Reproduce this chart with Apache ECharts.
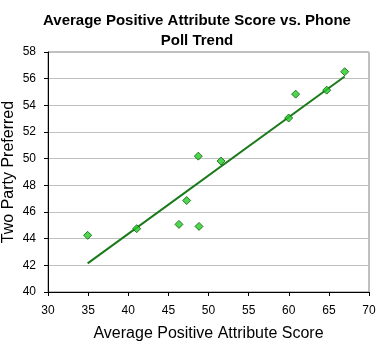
<!DOCTYPE html>
<html>
<head>
<meta charset="utf-8">
<script src="https://cdn.jsdelivr.net/npm/echarts@6/dist/echarts.min.js"></script>
<style>
  html, body { margin: 0; padding: 0; background: #ffffff; }
  #chart { width: 382px; height: 347px; }
</style>
</head>
<body>
<div id="chart"></div>
<script>
// Average positive attribute score (x) vs. two party preferred (y)
const attributeScore = [34.94, 41.05, 46.32, 47.28, 48.82, 48.73, 51.56, 59.99, 60.86, 64.73, 66.97];
const twoPartyPreferred = [44.25, 44.75, 45.07, 46.86, 44.92, 50.19, 49.82, 53.05, 54.84, 55.14, 56.52];

const xTicks = { min: 30, max: 70, interval: 5 };
const yTicks = { min: 40, max: 58, interval: 2 };

// Least-squares linear trend through the points
function linearTrend(xs, ys) {
  const n = xs.length;
  const mx = xs.reduce((a, b) => a + b, 0) / n;
  const my = ys.reduce((a, b) => a + b, 0) / n;
  let sxy = 0, sxx = 0;
  for (let i = 0; i < n; i++) {
    sxy += (xs[i] - mx) * (ys[i] - my);
    sxx += (xs[i] - mx) * (xs[i] - mx);
  }
  const slope = sxy / sxx;
  const intercept = my - slope * mx;
  const x0 = Math.min(...xs), x1 = Math.max(...xs);
  return [[x0, intercept + slope * x0], [x1, intercept + slope * x1]];
}

const points = attributeScore.map((x, i) => [x, twoPartyPreferred[i]]);
const trend = linearTrend(attributeScore, twoPartyPreferred);

const chart = echarts.init(document.getElementById('chart'), null, { renderer: 'canvas' });
const font = 'Arial, "Liberation Sans", sans-serif';

chart.setOption({
  backgroundColor: '#ffffff',
  animation: false,
  title: {
    text: 'Average Positive Attribute Score vs. Phone\nPoll Trend',
    left: 192,
    textAlign: 'center',
    top: 6,
    textStyle: { fontFamily: font, fontSize: 15, fontWeight: 'bold', color: '#000', lineHeight: 20 }
  },
  grid: {
    left: 48, right: 13, top: 52, bottom: 55,
    outerBoundsMode: 'none',
    containLabel: false,
    show: true, borderColor: '#808080', borderWidth: 1, backgroundColor: '#ffffff'
  },
  xAxis: {
    type: 'value',
    min: xTicks.min, max: xTicks.max, interval: xTicks.interval,
    name: 'Average Positive Attribute Score',
    nameLocation: 'middle',
    nameGap: 34,
    nameMoveOverlap: false,
    nameTextStyle: { fontFamily: font, fontSize: 16, color: '#000' },
    axisLine: { show: true, onZero: false, lineStyle: { color: '#000', width: 1 } },
    axisTick: { show: true, length: 4, lineStyle: { color: '#000' } },
    axisLabel: { fontFamily: font, fontSize: 12, color: '#000', margin: 13 },
    splitLine: { show: false }
  },
  yAxis: {
    type: 'value',
    min: yTicks.min, max: yTicks.max, interval: yTicks.interval,
    name: 'Two Party Preferred',
    nameLocation: 'middle',
    nameGap: 31,
    nameMoveOverlap: false,
    nameTextStyle: { fontFamily: font, fontSize: 16, color: '#000' },
    axisLine: { show: true, onZero: false, lineStyle: { color: '#000', width: 1 } },
    axisTick: { show: true, length: 4, lineStyle: { color: '#000' } },
    axisLabel: { fontFamily: font, fontSize: 12, color: '#000', margin: 12 },
    splitLine: { show: true, lineStyle: { color: '#c0c0c0', width: 1 } }
  },
  series: [
    {
      name: 'Trend',
      type: 'line',
      data: trend,
      showSymbol: false,
      symbol: 'none',
      lineStyle: { color: '#1a7a1a', width: 2 },
      z: 2
    },
    {
      name: 'Scores',
      type: 'scatter',
      data: points,
      symbol: 'diamond',
      symbolSize: 8,
      itemStyle: { color: '#22cc22', borderColor: '#0b5e0b', borderWidth: 1 },
      z: 3
    }
  ]
});
</script>
</body>
</html>
